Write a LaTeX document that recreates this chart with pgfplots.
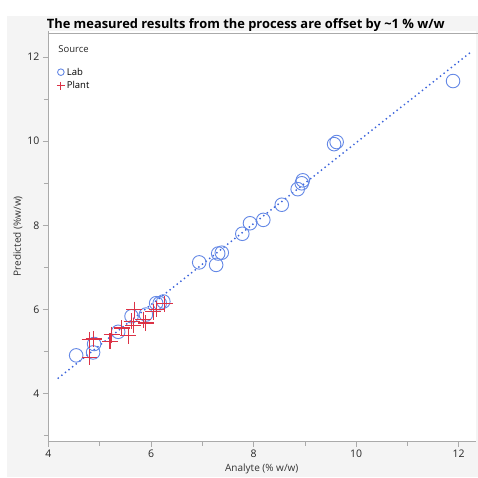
\documentclass[border=0pt]{standalone}
\usepackage{pgfplots}
\pgfplotsset{compat=1.18}
\usepackage{fontspec}
\setmainfont{Open Sans}
\definecolor{labblue}{RGB}{100,136,230}
\definecolor{plantred}{RGB}{220,50,70}
\definecolor{linblue}{RGB}{60,100,220}
\definecolor{panel}{RGB}{244,244,244}
\definecolor{axgray}{RGB}{170,170,170}
\begin{document}
\begin{tikzpicture}
\fill[white] (0pt,0pt) rectangle (7pt,477pt);
\fill[white] (7pt,461pt) rectangle (478pt,477pt);
\fill[panel] (7pt,0pt) rectangle (478pt,461pt);
\node[font=\bfseries\fontsize{12.9}{14}\selectfont, anchor=center] at (246pt,452pt) {The measured results from the process are offset by \textasciitilde1 \% w/w};
\begin{axis}[
  at={(48pt,35pt)}, anchor=south west,
  scale only axis, width=428pt, height=411pt,
  xmin=3.99, xmax=12.33, ymin=2.86, ymax=12.62,
  axis x line*=bottom, axis y line*=left,
  axis line style={axgray, line width=0.8pt},
  axis background/.style={fill=white},
  xtick={4,6,8,10,12}, ytick={4,6,8,10,12},
  minor xtick={5,7,9,11}, minor ytick={3,5,7,9,11},
  tick align=outside, major tick length=5pt, minor tick length=4pt,
  tick style={axgray, line width=0.6pt},
  ticklabel style={font=\fontsize{10.5}{12}\selectfont, text=black!85},
  /pgf/number format/assume math mode=true,
  xlabel={Analyte (\% w/w)}, ylabel={Predicted (\%w/w)},
  label style={font=\fontsize{10}{11}\selectfont, text=black!80},
  xlabel style={yshift=1pt},
  ylabel style={yshift=-2pt},
  clip=false,
  legend style={at={(0.018,0.918)}, anchor=north west, draw=none, fill=none,
    font=\fontsize{9.5}{11}\selectfont, row sep=1pt, inner sep=1pt},
  legend cell align=left,
  legend image code/.code={\draw[mark repeat=2,mark phase=2] plot coordinates {(0pt,0pt)(5pt,0pt)(11pt,0pt)};},
]
\addplot[linblue, line width=2pt, dash pattern=on 0pt off 4.6pt, line cap=round, forget plot]
  coordinates {(4.19,4.37) (12.25,12.13)};
\addplot[only marks, mark=o, mark size=6.8pt, color=labblue, mark options={solid, draw=labblue, fill=none, line width=0.9pt}, legend image post style={mark size=3.3pt}]
  coordinates {
  (4.54,4.91) (4.87,4.98) (4.89,5.18) (5.36,5.47) (5.62,5.84) (5.90,5.88)
  (6.10,6.15) (6.17,6.15) (6.24,6.19) (6.94,7.12) (7.27,7.06) (7.31,7.33)
  (7.38,7.35) (7.78,7.80) (7.93,8.05) (8.19,8.13) (8.55,8.49) (8.86,8.86)
  (8.94,9.00) (8.96,9.07) (9.57,9.93) (9.62,9.98) (11.89,11.43)
  };
\addlegendentry{Lab}
\addplot[only marks, mark=+, mark size=8pt, color=plantred, mark options={solid, draw=plantred, line width=1.1pt}, legend image post style={mark size=4pt, line width=0.8pt}]
  coordinates {
  (4.80,4.87) (4.80,5.28) (4.88,5.30) (5.20,5.24) (5.23,5.40) (5.43,5.56)
  (5.56,5.38) (5.62,5.72) (5.67,6.00) (5.65,5.62) (5.85,5.76) (5.90,5.68)
  (6.04,5.95) (6.11,6.01) (6.27,6.14)
  };
\addlegendentry{Plant}
\node[anchor=west, font=\fontsize{9.5}{11}\selectfont, text=black!85] at (rel axis cs:0.016,0.955) {Source};
\end{axis}
\draw[axgray, line width=0.8pt] (48pt,444pt) -- (478pt,444pt);
\end{tikzpicture}
\end{document}
